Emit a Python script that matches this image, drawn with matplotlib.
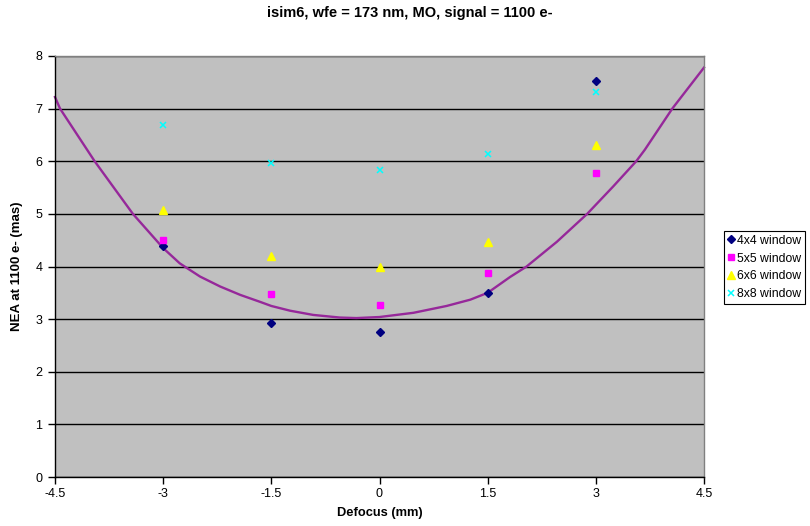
import matplotlib
matplotlib.use("Agg")
import matplotlib.pyplot as plt

plt.rcParams['font.family'] = ['Liberation Sans', 'DejaVu Sans']

# Data
defocus = [-3.0, -1.5, 0.0, 1.5, 3.0]
nea_4x4 = [4.39, 2.93, 2.76, 3.49, 7.53]
nea_5x5 = [4.51, 3.47, 3.27, 3.87, 5.77]
nea_6x6 = [5.08, 4.20, 4.00, 4.47, 6.31]
nea_8x8 = [6.68, 5.97, 5.84, 6.13, 7.32]

# Purple trend curve
curve_x = [-4.5, -4.43, -3.95, -3.42, -3.0, -2.77, -2.49, -2.21, -1.93, -1.66,
           -1.5, -1.24, -0.92, -0.55, -0.32, 0.0, 0.47, 0.93, 1.26, 1.5,
           1.81, 2.04, 2.46, 2.88, 3.24, 3.56, 3.68, 4.06, 4.5]
curve_y = [7.22, 7.0, 6.0, 5.0, 4.35, 4.06, 3.81, 3.62, 3.46, 3.33,
           3.25, 3.16, 3.08, 3.03, 3.02, 3.04, 3.12, 3.25, 3.37, 3.50,
           3.80, 4.0, 4.47, 5.0, 5.52, 6.0, 6.22, 7.0, 7.78]

x_ticks = [-4.5, -3, -1.5, 0, 1.5, 3, 4.5]
x_ticklabels = ['-4.5', '-3', '-1.5', '0', '1.5', '3', '4.5']
y_ticks = [0, 1, 2, 3, 4, 5, 6, 7, 8]

title = 'isim6, wfe = 173 nm, MO, signal = 1100 e-'
xlabel = 'Defocus (mm)'
ylabel = 'NEA at 1100 e- (mas)'
series_labels = ['4x4 window', '5x5 window', '6x6 window', '8x8 window']

fig = plt.figure(figsize=(8.10, 5.26), dpi=100)
ax = fig.add_axes([55/810, 49/526, 649/810, 421/526])
ax.set_facecolor('#C0C0C0')

ax.plot(curve_x, curve_y, color='#96289A', lw=1.7, zorder=2, clip_on=False)

ax.plot(defocus, nea_4x4, ls='none', marker='D', ms=4.2, color='#000080', label=series_labels[0], zorder=3)
ax.plot(defocus, nea_5x5, ls='none', marker='s', ms=5, color='#FF00FF', label=series_labels[1], zorder=3)
ax.plot(defocus, nea_6x6, ls='none', marker='^', ms=5.5, color='#FFFF00', label=series_labels[2], zorder=3)
ax.plot(defocus, nea_8x8, ls='none', marker='x', ms=5, mew=1.1, color='#00FFFF', label=series_labels[3], zorder=3)

ax.set_xlim(-4.5, 4.5)
ax.set_ylim(0, 8)
ax.set_xticks(x_ticks)
ax.set_xticklabels(x_ticklabels)
ax.set_yticks(y_ticks)
ax.yaxis.grid(True, color='black', lw=1.0)
ax.set_axisbelow(True)

for s in ['left', 'bottom']:
    ax.spines[s].set_color('black')
    ax.spines[s].set_linewidth(1.0)
for s in ['top', 'right']:
    ax.spines[s].set_color('#808080')
    ax.spines[s].set_linewidth(1.0)

ax.tick_params(axis='both', direction='out', length=5, width=1, labelsize=9, colors='black')
ax.tick_params(axis='x', pad=3)
ax.tick_params(axis='y', pad=4)

ax.set_xlabel(xlabel, fontsize=9.3, fontweight='bold', labelpad=5)
ax.set_ylabel(ylabel, fontsize=9.5, fontweight='bold', labelpad=9)
fig.text(410/810, 1 - 13/526, title, ha='center', va='center', fontsize=10.5, fontweight='bold')

leg = fig.legend(loc='upper left', bbox_to_anchor=(724/810, 1 - 231/526), fontsize=8.8,
                 frameon=True, fancybox=False, edgecolor='black', framealpha=1,
                 borderpad=0.3, labelspacing=0.48, handlelength=0.5, handletextpad=0.3,
                 borderaxespad=0)
leg.get_frame().set_linewidth(0.8)

fig.savefig('out.png', dpi=100, facecolor='white')
